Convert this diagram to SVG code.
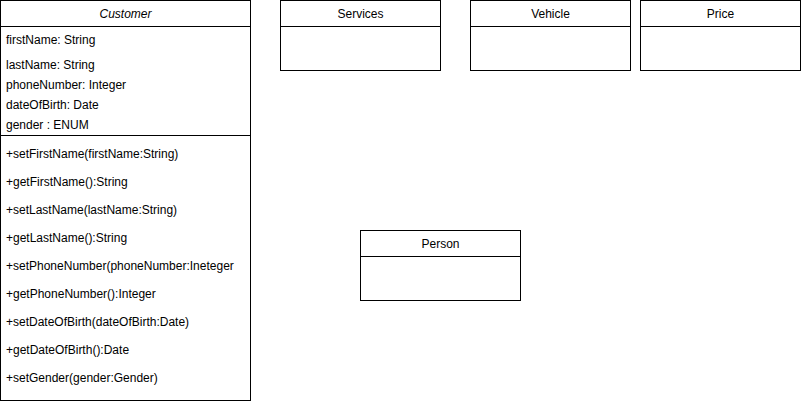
<svg xmlns="http://www.w3.org/2000/svg" width="801" height="401" viewBox="0 0 801 401">
<style>
.box{fill:#fff;stroke:#000;stroke-width:1}
.ln{stroke:#000;stroke-width:1;fill:none}
text{font-family:"Liberation Sans",Arial,Helvetica,sans-serif;font-size:12px;fill:#000}
.c{text-anchor:middle}
.i{font-style:italic}
</style>
<rect width="801" height="401" fill="#fff"/>
<g id="connectors"></g>
<g id="customer">
<rect class="box" x="0.5" y="0.5" width="250" height="400"/>
<line class="ln" x1="0.5" y1="26.5" x2="250.5" y2="26.5"/>
<line class="ln" x1="0.5" y1="135.5" x2="250.5" y2="135.5"/>
<text class="c i" x="125.5" y="18">Customer</text>
<text x="6" y="44">firstName: String</text>
<text x="6" y="69">lastName: String</text>
<text x="6" y="89">phoneNumber: Integer</text>
<text x="6" y="109">dateOfBirth: Date</text>
<text x="6" y="129">gender : ENUM</text>
<text x="6" y="158">+setFirstName(firstName:String)</text>
<text x="6" y="186">+getFirstName():String</text>
<text x="6" y="214">+setLastName(lastName:String)</text>
<text x="6" y="242">+getLastName():String</text>
<text x="6" y="270">+setPhoneNumber(phoneNumber:Ineteger</text>
<text x="6" y="298">+getPhoneNumber():Integer</text>
<text x="6" y="326">+setDateOfBirth(dateOfBirth:Date)</text>
<text x="6" y="354">+getDateOfBirth():Date</text>
<text x="6" y="382">+setGender(gender:Gender)</text>
</g>
<g id="services">
<rect class="box" x="280.5" y="0.5" width="160" height="70"/>
<line class="ln" x1="280.5" y1="26.5" x2="440.5" y2="26.5"/>
<text class="c" x="360.5" y="18">Services</text>
</g>
<g id="vehicle">
<rect class="box" x="470.5" y="0.5" width="160" height="70"/>
<line class="ln" x1="470.5" y1="26.5" x2="630.5" y2="26.5"/>
<text class="c" x="550.5" y="18">Vehicle</text>
</g>
<g id="price">
<rect class="box" x="640.5" y="0.5" width="160" height="70"/>
<line class="ln" x1="640.5" y1="26.5" x2="800.5" y2="26.5"/>
<text class="c" x="720.5" y="18">Price</text>
</g>
<g id="person">
<rect class="box" x="360.5" y="230.5" width="160" height="70"/>
<line class="ln" x1="360.5" y1="256.5" x2="520.5" y2="256.5"/>
<text class="c" x="440.5" y="248">Person</text>
</g>
</svg>
